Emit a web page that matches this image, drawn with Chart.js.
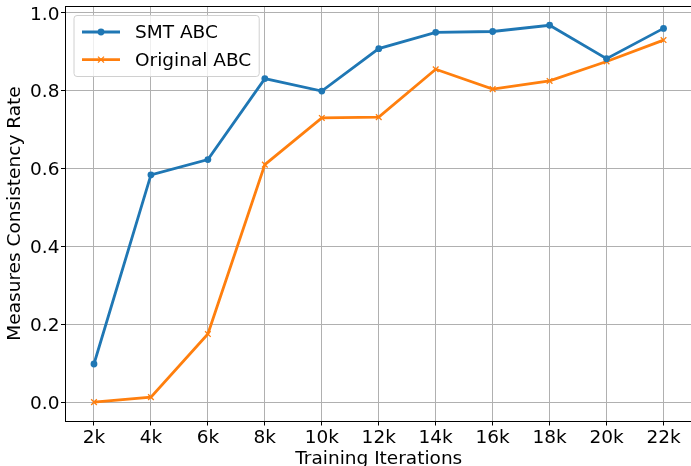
<!DOCTYPE html>
<html>
<head>
<meta charset="utf-8">
<script src="https://cdn.jsdelivr.net/npm/chart.js@4/dist/chart.umd.min.js"></script>
<style>
  html, body { margin: 0; padding: 0; background: #fff; }
  #wrap { width: 691px; height: 466px; overflow: hidden; }
</style>
</head>
<body>
<div id="wrap"><canvas id="line-chart" width="692" height="466"></canvas></div>
<script>
const iterations = ["2k", "4k", "6k", "8k", "10k", "12k", "14k", "16k", "18k", "20k", "22k"];
const smtAbc = [0.098, 0.584, 0.623, 0.831, 0.799, 0.908, 0.950, 0.952, 0.968, 0.882, 0.960];
const originalAbc = [0.0, 0.013, 0.175, 0.610, 0.730, 0.732, 0.855, 0.804, 0.825, 0.875, 0.930];
const yTicks = [0.0, 0.2, 0.4, 0.6, 0.8, 1.0];

const FONT = "'DejaVu Sans', sans-serif";
const SIZE = 18.5;
const BLUE = "#1f77b4";
const ORANGE = "#ff7f0e";

// matplotlib-like legend: line sample with marker in the middle
const legendBox = {
  id: "legendBox",
  afterDatasetsDraw(chart) {
    const { ctx, chartArea } = chart;
    const sets = chart.data.datasets;
    ctx.save();
    ctx.font = SIZE + "px " + FONT;
    let maxW = 0;
    sets.forEach((ds) => { maxW = Math.max(maxW, ctx.measureText(ds.label).width); });
    const x = chartArea.left + 8.5;
    const y = chartArea.top + 9.5;
    const w = 61 + maxW + 8;
    const h = 61;
    ctx.beginPath();
    ctx.roundRect(x, y, w, h, 3);
    ctx.fillStyle = "rgba(255,255,255,0.8)";
    ctx.fill();
    ctx.strokeStyle = "#d0d0d0";
    ctx.lineWidth = 1;
    ctx.stroke();
    sets.forEach((ds, i) => {
      const cy = y + 16.5 + i * 27.6;
      ctx.beginPath();
      ctx.moveTo(x + 8, cy);
      ctx.lineTo(x + 46, cy);
      ctx.strokeStyle = ds.borderColor;
      ctx.lineWidth = ds.borderWidth;
      ctx.stroke();
      const mx = x + 27;
      if (ds.pointStyle === "circle") {
        ctx.beginPath();
        ctx.arc(mx, cy, ds.pointRadius, 0, Math.PI * 2);
        ctx.fillStyle = ds.borderColor;
        ctx.fill();
      } else {
        const r = ds.pointRadius * 0.75;
        ctx.beginPath();
        ctx.moveTo(mx - r, cy - r);
        ctx.lineTo(mx + r, cy + r);
        ctx.moveTo(mx - r, cy + r);
        ctx.lineTo(mx + r, cy - r);
        ctx.lineWidth = ds.pointBorderWidth;
        ctx.stroke();
      }
      ctx.fillStyle = "#000";
      ctx.textBaseline = "middle";
      ctx.textAlign = "left";
      ctx.fillText(ds.label, x + 61, cy + 1.3);
    });
    ctx.restore();
  },
};

// top spine (right one falls off the picture)
const frame = {
  id: "frame",
  afterDraw(chart) {
    const { ctx, chartArea } = chart;
    ctx.save();
    ctx.strokeStyle = "#000";
    ctx.lineWidth = 1;
    ctx.beginPath();
    ctx.moveTo(chartArea.left, chartArea.top + 0.5);
    ctx.lineTo(chartArea.right, chartArea.top + 0.5);
    ctx.moveTo(chartArea.right - 0.5, chartArea.top);
    ctx.lineTo(chartArea.right - 0.5, chartArea.bottom);
    ctx.stroke();
    ctx.restore();
  },
};

new Chart(document.getElementById("line-chart"), {
  type: "line",
  data: {
    labels: iterations,
    datasets: [
      {
        label: "SMT ABC",
        data: smtAbc,
        borderColor: BLUE,
        backgroundColor: BLUE,
        borderWidth: 2.8,
        pointStyle: "circle",
        pointRadius: 3.4,
        pointBorderWidth: 0,
        tension: 0,
      },
      {
        label: "Original ABC",
        data: originalAbc,
        borderColor: ORANGE,
        backgroundColor: ORANGE,
        borderWidth: 2.8,
        pointStyle: "crossRot",
        pointRadius: 4,
        pointBorderWidth: 1.3,
        tension: 0,
      },
    ],
  },
  options: {
    responsive: false,
    animation: false,
    layout: { autoPadding: false, padding: { top: 6, left: 0, right: 0, bottom: 0 } },
    plugins: {
      legend: { display: false },
      tooltip: { enabled: false },
    },
    scales: {
      x: {
        type: "category",
        offset: true,
        afterFit(scale) {
          scale.height = 45;
          scale.paddingLeft = 0;
          scale.paddingRight = 0;
        },
        grid: { color: "#b0b0b0", lineWidth: 1, tickColor: "#000", tickLength: 4.5, offset: false },
        border: { color: "#000", width: 1 },
        ticks: { color: "#000", font: { family: FONT, size: SIZE }, padding: 2, maxRotation: 0, autoSkip: false },
        title: {
          display: true,
          text: "Training Iterations",
          color: "#000",
          font: { family: FONT, size: SIZE, lineHeight: 1 },
          padding: { top: 0, bottom: -2.3 },
        },
      },
      y: {
        min: -0.0484,
        max: 1.0175,
        afterFit(scale) {
          scale.width = 65.5;
          scale.paddingTop = 0;
          scale.paddingBottom = 0;
        },
        afterBuildTicks(scale) { scale.ticks = yTicks.map((v) => ({ value: v })); },
        grid: { color: "#b0b0b0", lineWidth: 1, tickColor: "#000", tickLength: 4.5 },
        border: { color: "#000", width: 1 },
        ticks: {
          color: "#000",
          font: { family: FONT, size: SIZE },
          padding: 1.5,
          labelOffset: 2,
          callback: (v) => Number(v).toFixed(1),
        },
        title: {
          display: true,
          text: "Measures Consistency Rate",
          color: "#000",
          font: { family: FONT, size: SIZE, lineHeight: 1 },
          padding: { top: 5.8, bottom: 0 },
        },
      },
    },
  },
  plugins: [frame, legendBox],
});
</script>
</body>
</html>
